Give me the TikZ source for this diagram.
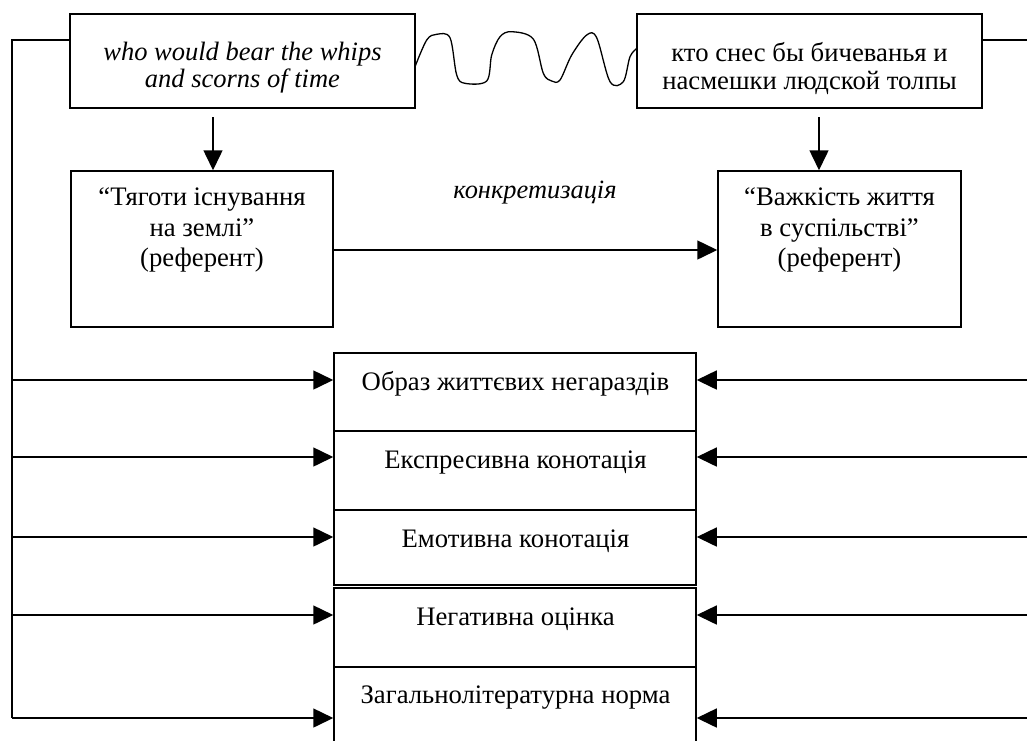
\documentclass[tikz,border=0pt]{standalone}
\usepackage{fontspec}
\setmainfont{Liberation Serif}
\usetikzlibrary{arrows.meta}
\begin{document}
\begin{tikzpicture}[x=1pt,y=-1pt,
  box/.style={draw, line width=1.5pt, rectangle, inner sep=0pt},
  txt/.style={font=\fontsize{26.7}{30.5}\selectfont, align=center, inner sep=0pt},
  con/.style={line width=1.5pt},
  arr/.style={line width=1.5pt, -{Triangle[length=20pt,width=19pt]}}]
\useasboundingbox (0,0) rectangle (1027,740);
\clip (0,0) rectangle (1027,740);
% boxes
\node[box, minimum width=345pt, minimum height=94pt] (tl) at (242.5,61) {};
\node[box, minimum width=345pt, minimum height=94pt] (tr) at (809.5,61) {};
\node[box, minimum width=262pt, minimum height=156pt] (ml) at (202,249) {};
\node[box, minimum width=243pt, minimum height=156pt] (mr) at (839.5,249) {};
\node[box, minimum width=362pt, minimum height=78pt] (b1) at (515,392) {};
\node[box, minimum width=362pt, minimum height=79pt] (b2) at (515,470.5) {};
\node[box, minimum width=362pt, minimum height=75pt] (b3) at (515,547.5) {};
\node[box, minimum width=362pt, minimum height=79pt] (b4) at (515,627.5) {};
\node[box, minimum width=362pt, minimum height=93pt] (b5) at (515,713.5) {};
% texts
\node[txt, anchor=north, font=\fontsize{26.5}{27}\selectfont\itshape] (tlt) at (242.5,42) {who would bear the whips\\and scorns of time};
\node[txt, anchor=north, font=\fontsize{26.7}{28}\selectfont] (trt) at (809.5,42) {кто снес бы бичеванья и\\насмешки людской толпы};
\node[txt, anchor=north] (mlt) at (202,188) {“Тяготи існування\\на землі”\\(референт)};
\node[txt, anchor=north] (mrt) at (839.5,188) {“Важкість життя\\в суспільстві”\\(референт)};
\node[txt, anchor=base, font=\fontsize{26.4}{28}\selectfont\itshape] (konk) at (535,198) {конкретизація};
\node[txt, anchor=base] (b1t) at (515.5,390) {Образ життєвих негараздів};
\node[txt, anchor=base] (b2t) at (515.5,468) {Експресивна конотація};
\node[txt, anchor=base] (b3t) at (515.5,547) {Емотивна конотація};
\node[txt, anchor=base] (b4t) at (515.5,625) {Негативна оцінка};
\node[txt, anchor=base] (b5t) at (515.5,703) {Загальнолітературна норма};
% coordinates
\coordinate (Ltop) at (12,40);
\coordinate (L1) at (12,380);
\coordinate (L2) at (12,457);
\coordinate (L3) at (12,537);
\coordinate (L4) at (12,615);
\coordinate (L5) at (12,718);
\coordinate (Rtop) at (1027,40);
\coordinate (R1) at (1027,380);
\coordinate (R2) at (1027,457);
\coordinate (R3) at (1027,537);
\coordinate (R4) at (1027,615);
\coordinate (R5) at (1027,718);
\coordinate (dl) at (213,117);
\coordinate (dr) at (819,117);
% connectors
\draw[con] (tl.west |- Ltop) -- (Ltop) -- (L5);
\draw[con] (tr.east |- Rtop) -- (Rtop);
\foreach \i/\b in {1/b1,2/b2,3/b3,4/b4,5/b5}{
  \draw[arr] (L\i) -- (L\i -| \b.west);
  \draw[arr] (R\i) -- (R\i -| \b.east);
}
\draw[arr] (dl) -- (dl |- ml.north);
\draw[arr] (dr) -- (dr |- mr.north);
\draw[arr] (ml.east |- 0,250) -- (mr.west |- 0,250);
% wavy link
\draw[line width=1.3pt, line join=round] plot[smooth, tension=0.55] coordinates {
 (415,66.7) (426.7,40) (436.7,34.3) (450,37.7) (456.7,75) (465,83.3)
 (486.7,81) (491.7,55) (500,36.7) (511.7,31.7) (533.3,39) (543.3,73.3) (551.7,81)
 (560,80) (571.7,55) (586.7,35) (596.7,37.7) (610,81.7) (623.3,81.7) (630,56.7) (637,48.3)};
\end{tikzpicture}
\end{document}
